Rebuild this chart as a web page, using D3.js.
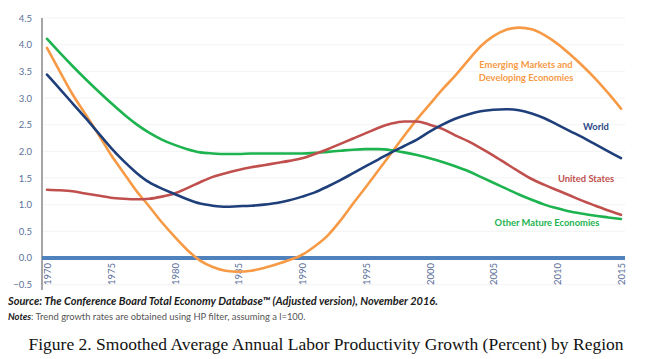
<!DOCTYPE html>
<html><head><meta charset="utf-8">
<script src="https://cdn.jsdelivr.net/npm/d3@7"></script>
<style>body{margin:0;background:#fff}svg{display:block}</style>
</head><body>
<svg id="c" width="652" height="359"></svg>
<script>
const years = d3.range(1970, 2016);
const world = [3.44,3.17,2.90,2.63,2.35,2.07,1.82,1.60,1.42,1.30,1.20,1.10,1.02,0.98,0.96,0.97,0.98,1.00,1.03,1.08,1.15,1.23,1.34,1.46,1.59,1.72,1.85,1.98,2.10,2.22,2.37,2.50,2.61,2.69,2.75,2.78,2.79,2.77,2.71,2.62,2.50,2.38,2.26,2.13,2.00,1.87];
const unitedStates = [1.28,1.27,1.25,1.21,1.17,1.13,1.11,1.10,1.11,1.15,1.21,1.31,1.42,1.52,1.59,1.65,1.70,1.74,1.78,1.82,1.87,1.95,2.04,2.14,2.24,2.34,2.44,2.52,2.56,2.56,2.50,2.42,2.30,2.19,2.06,1.92,1.77,1.62,1.48,1.37,1.27,1.17,1.07,0.98,0.89,0.81];
const otherMature = [4.11,3.85,3.60,3.36,3.13,2.91,2.70,2.51,2.35,2.22,2.12,2.04,1.98,1.96,1.95,1.95,1.96,1.96,1.96,1.96,1.96,1.97,1.99,2.01,2.03,2.04,2.04,2.02,1.98,1.93,1.87,1.80,1.72,1.63,1.52,1.41,1.30,1.19,1.09,1.00,0.93,0.87,0.83,0.79,0.76,0.73];
const emerging = [3.94,3.50,3.07,2.70,2.33,1.94,1.60,1.26,0.97,0.67,0.40,0.15,-0.05,-0.17,-0.24,-0.26,-0.24,-0.19,-0.12,-0.04,0.06,0.22,0.42,0.70,1.02,1.33,1.65,1.97,2.29,2.60,2.88,3.16,3.42,3.70,3.97,4.16,4.28,4.32,4.29,4.18,4.02,3.82,3.60,3.36,3.09,2.80];
const yTicks = [-0.5,0,0.5,1,1.5,2,2.5,3,3.5,4,4.5];
const xTicks = [1970,1975,1980,1985,1990,1995,2000,2005,2010,2015];
const seriesNames = ["Emerging Markets and|Developing Economies","World","United States","Other Mature Economies"];

const svg = d3.select("#c");
const x = d3.scaleLinear().domain([1970, 2015]).range([47, 621]);
const y = d3.scaleLinear().domain([-0.5, 4.5]).range([284.6, 18]);
const font = "Lato, 'Open Sans', sans-serif";

// faint gridlines
svg.append("g").selectAll("line").data(yTicks.filter(d => d !== 0)).join("line")
  .attr("x1", 42).attr("x2", 625).attr("y1", d => y(d)).attr("y2", d => y(d))
  .attr("stroke", "#f3f3f3").attr("stroke-width", 1);

// y axis
const yAxis = d3.axisLeft(y).tickValues(yTicks).tickFormat(d3.format(".1f")).tickSize(0).tickPadding(10);
const gy = svg.append("g").attr("transform", "translate(42,0)").call(yAxis);
gy.select(".domain").remove();
gy.selectAll("text").attr("fill", "#5b6f99").attr("font-family", font).attr("font-size", 9.5);
svg.append("line").attr("x1", 42).attr("x2", 42).attr("y1", 18).attr("y2", 290)
  .attr("stroke", "#a6a6a6").attr("stroke-width", 2);

// zero line
svg.append("line").attr("x1", 42).attr("x2", 625).attr("y1", y(0)).attr("y2", y(0))
  .attr("stroke", "#4f81bd").attr("stroke-width", 4);

// x axis labels
const xAxis = d3.axisBottom(x).tickValues(xTicks).tickFormat(d3.format("d")).tickSize(0);
const gx = svg.append("g").attr("transform", `translate(0,${y(0)})`).call(xAxis);
gx.select(".domain").remove();
gx.selectAll("text").attr("fill", "#5b6f99").attr("font-family", font).attr("font-size", 9.5)
  .attr("text-anchor", "end").attr("dy", null).attr("y", 0)
  .attr("transform", "translate(3.5,5) rotate(-90)");

// lines
const line = d3.line().x((d, i) => x(years[i])).y(d => y(d)).curve(d3.curveMonotoneX);
const series = [
  {v: emerging, c: "#f79a46"},
  {v: otherMature, c: "#1db34f"},
  {v: unitedStates, c: "#c0504d"},
  {v: world, c: "#1f3f7a"}
];
svg.append("g").selectAll("path").data(series).join("path")
  .attr("d", d => line(d.v)).attr("fill", "none").attr("stroke", d => d.c)
  .attr("stroke-width", 2.6).attr("stroke-linecap", "round");

// series labels
const labels = [
  {t: seriesNames[0].split("|"), x: 526, y: 68, c: "#f79a46"},
  {t: [seriesNames[1]], x: 596, y: 130, c: "#2e4a86"},
  {t: [seriesNames[2]], x: 586, y: 182, c: "#c0504d"},
  {t: [seriesNames[3]], x: 547, y: 226, c: "#1db34f"}
];
labels.forEach(l => {
  const t = svg.append("text").attr("x", l.x).attr("y", l.y).attr("text-anchor", "middle")
    .attr("fill", l.c).attr("font-family", font).attr("font-size", 9.4).attr("font-weight", "bold");
  l.t.forEach((s, i) => t.append("tspan").attr("x", l.x).attr("dy", i ? 13 : 0).text(s));
});

// source & notes
svg.append("text").attr("x", 8).attr("y", 305).attr("font-family", font).attr("font-size", 11)
  .attr("font-weight", "bold").attr("font-style", "italic").attr("fill", "#1a1a1a")
  .text("Source: The Conference Board Total Economy Database\u2122 (Adjusted version), November 2016.");
const n = svg.append("text").attr("x", 8).attr("y", 320).attr("font-family", font).attr("font-size", 9.4).attr("fill", "#555");
n.append("tspan").attr("font-weight", "bold").attr("font-style", "italic").attr("fill", "#1a1a1a").text("Notes");
n.append("tspan").text(":  Trend growth rates are obtained using HP filter, assuming a l=100.");

// title
svg.append("text").attr("x", 326).attr("y", 350).attr("text-anchor", "middle")
  .attr("font-family", "'Liberation Serif', 'Times New Roman', serif").attr("font-size", 17.5).attr("fill", "#111")
  .text("Figure 2. Smoothed Average Annual Labor Productivity Growth (Percent) by Region");
</script>
</body></html>
